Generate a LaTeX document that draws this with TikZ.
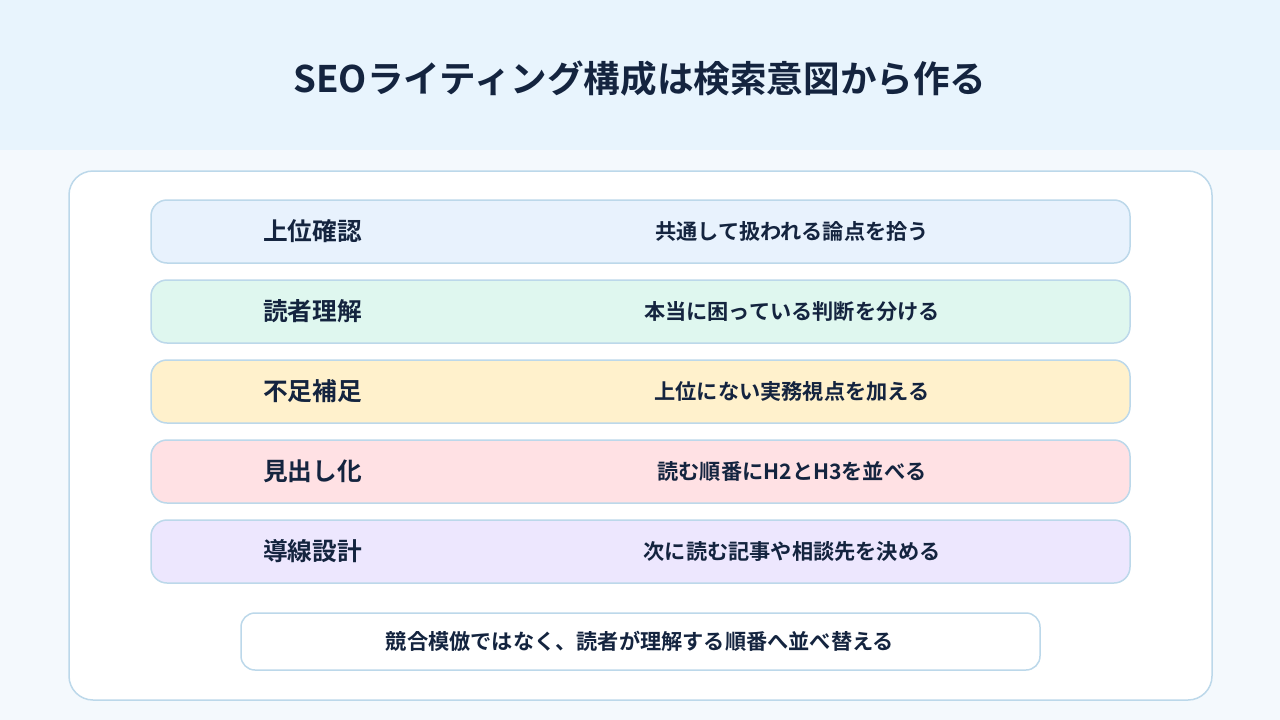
\documentclass[tikz,border=0pt]{standalone}
\usepackage{fontspec}
\setmainfont{Noto Sans CJK JP}[BoldFont={Noto Sans CJK JP Bold}]
\usetikzlibrary{positioning}
\definecolor{ink}{HTML}{14243F}
\definecolor{headbg}{HTML}{E8F4FD}
\definecolor{pagebg}{HTML}{F4F9FD}
\definecolor{edge}{HTML}{BCD8EA}
\definecolor{rowA}{HTML}{E8F2FD}
\definecolor{rowB}{HTML}{DFF7EF}
\definecolor{rowC}{HTML}{FFF1CC}
\definecolor{rowD}{HTML}{FFE1E4}
\definecolor{rowE}{HTML}{EDE7FE}

\begin{document}
\begin{tikzpicture}[x=1pt,y=-1pt]
	\tikzstyle{every node}=[text=ink,font=\bfseries]
	\tikzstyle{row}=[draw=edge,line width=1.5pt,rounded corners=16pt,
		minimum width=979pt,minimum height=63pt,inner sep=0pt]
	\tikzstyle{tag}=[anchor=west,inner sep=0pt,font=\fontsize{24.7}{28}\selectfont\bfseries]
	\tikzstyle{note}=[inner sep=0pt,font=\fontsize{21.2}{24}\selectfont\bfseries]
	% background
	\fill[pagebg] (0,0) rectangle (1280,720);
	\fill[headbg] (0,0) rectangle (1280,150);
	\useasboundingbox (0,0) rectangle (1280,720);
	\node (title) at (640,79) {\fontsize{36.6}{40}\selectfont\bfseries SEOライティング構成は検索意図から作る};
	\draw[edge,fill=white,line width=1.5pt,rounded corners=24pt] (69,171) rectangle (1212,700);
	% rows
	\node[row,fill=rowA] (top) at (640.5,231.5) {};
	\node[tag] (topL) at (263,231.5) {上位確認};
	\node[note] (topR) at (792,231.5) {共通して扱われる論点を拾う};
	\node[row,fill=rowB] (reader) at (640.5,311.5) {};
	\node[tag] (readerL) at (263,311.5) {読者理解};
	\node[note] (readerR) at (792,311.5) {本当に困っている判断を分ける};
	\node[row,fill=rowC] (gap) at (640.5,391.5) {};
	\node[tag] (gapL) at (263,391.5) {不足補足};
	\node[note] (gapR) at (792,391.5) {上位にない実務視点を加える};
	\node[row,fill=rowD] (head) at (640.5,471.5) {};
	\node[tag] (headL) at (263,471.5) {見出し化};
	\node[note] (headR) at (792,471.5) {読む順番にH2とH3を並べる};
	\node[row,fill=rowE] (path) at (640.5,551.5) {};
	\node[tag] (pathL) at (263,551.5) {導線設計};
	\node[note] (pathR) at (792,551.5) {次に読む記事や相談先を決める};
	% summary
	\node[row,fill=white,minimum width=799pt,minimum height=57pt,rounded corners=14pt] (sum) at (640.5,641.5) {};
	\node[note] (sumT) at (640,641.5) {競合模倣ではなく、読者が理解する順番へ並べ替える};
\end{tikzpicture}
\end{document}
